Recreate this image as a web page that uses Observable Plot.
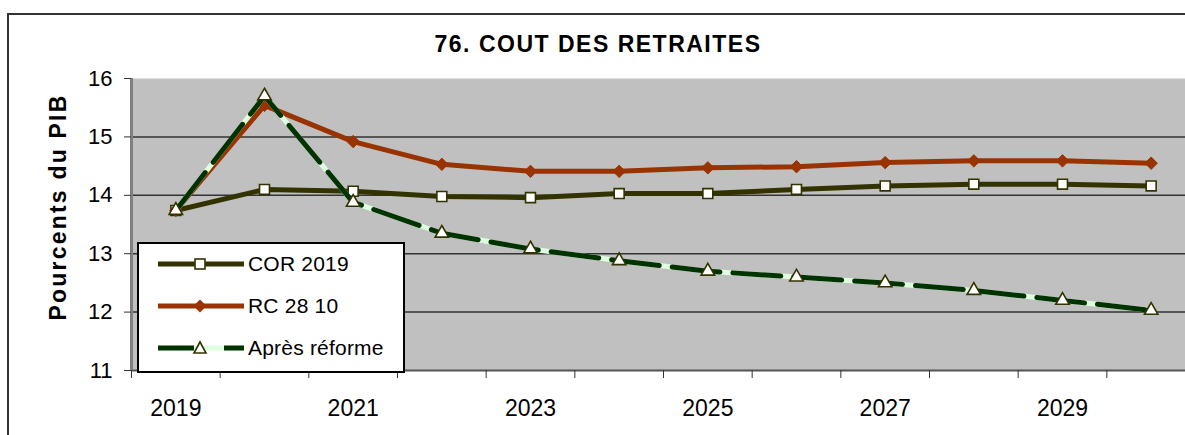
<!DOCTYPE html>
<html><head><meta charset="utf-8">
<script src="https://cdn.jsdelivr.net/npm/d3@7"></script>
<script src="https://cdn.jsdelivr.net/npm/@observablehq/plot@0.6"></script>
<style>
body{margin:0;background:#fff;font-family:"Liberation Sans",Arial,sans-serif;}
#wrap{position:relative;width:1185px;height:435px;overflow:hidden;background:#fff;}
#chart{position:absolute;left:0;top:0;}
#border{position:absolute;left:7px;top:13px;width:1200px;height:440px;border:2px solid #333;box-sizing:border-box;}
#title{position:absolute;left:598px;top:44px;transform:translate(-50%,-50%);font-weight:bold;font-size:23px;letter-spacing:1.5px;white-space:nowrap;color:#000;}
#ylabel{position:absolute;left:58px;top:207px;transform:translate(-50%,-50%) rotate(-90deg);font-weight:bold;font-size:23px;letter-spacing:2.2px;white-space:nowrap;color:#000;}
#legend{position:absolute;left:137px;top:242px;width:268px;height:131px;box-sizing:border-box;border:2px solid #000;background:#fff;}
.row{position:absolute;left:19px;height:24px;display:flex;align-items:center;}
.row span{font-size:21px;margin-left:4px;color:#000;letter-spacing:0.2px;}
</style></head><body>
<div id="wrap">
 <div id="border"></div>
 <div id="chart"></div>
 <div id="title">76. COUT DES RETRAITES</div>
 <div id="ylabel">Pourcents du PIB</div>
 <div id="legend"></div>
</div>
<script>
const years = [2019, 2020, 2021, 2022, 2023, 2024, 2025, 2026, 2027, 2028, 2029, 2030];
const cor2019 = [13.74, 14.10, 14.07, 13.98, 13.96, 14.03, 14.03, 14.10, 14.16, 14.19, 14.19, 14.16];
const rc2810  = [13.74, 15.54, 14.92, 14.53, 14.41, 14.41, 14.47, 14.49, 14.56, 14.59, 14.59, 14.55];
const apres   = [13.74, 15.70, 13.88, 13.35, 13.08, 12.88, 12.70, 12.60, 12.50, 12.37, 12.20, 12.03];
const seriesNames = ["COR 2019", "RC 28 10", "Après réforme"];
const yTicks = [11, 12, 13, 14, 15, 16];
const xLabelYears = [2019, 2021, 2023, 2025, 2027, 2029];

const toRows = (vals, name) => years.map((year, i) => ({year, value: vals[i], name}));
const dCor = toRows(cor2019, seriesNames[0]);
const dRc = toRows(rc2810, seriesNames[1]);
const dAp = toRows(apres, seriesNames[2]);
const boundaries = [years[0] - 0.5, ...years.slice(0, -1).map(y => y + 0.5)];

const cOlive = "#333300", cRed = "#993300", cGreen = "#003300", cMint = "#e0ffe0";

const chart = Plot.plot({
  width: 1185, height: 435,
  marginTop: 78, marginBottom: 65, marginLeft: 131, marginRight: 0,
  style: {fontFamily: "'Liberation Sans', Arial, sans-serif", fontSize: "22px", background: "transparent", color: "#000"},
  x: {type: "linear", domain: [years[0] - 0.5, years[years.length - 1] + 0.5], range: [131, 1195], label: null},
  y: {domain: [11, 16], label: null},
  marks: [
    Plot.frame({fill: "#c0c0c0"}),
    Plot.gridY([12, 13, 14, 15], {stroke: "#333", strokeOpacity: 1, strokeWidth: 1.5}),
    Plot.ruleY([11], {stroke: "#555", strokeWidth: 2}),
    Plot.ruleX([years[0] - 0.5], {stroke: "#808080", strokeWidth: 3}),
    Plot.axisY(yTicks, {tickSize: 7, tickPadding: 12, stroke: "#333", label: null, fontSize: 22, letterSpacing: 1, tickFormat: d => String(d)}),
    Plot.axisX(boundaries, {tickSize: 8, tickFormat: () => "", stroke: "#333", label: null}),
    Plot.axisX(xLabelYears, {tickSize: 0, tickPadding: 29, tickFormat: d => String(d), label: null, fontSize: 23, letterSpacing: 1}),
    Plot.line(dCor, {x: "year", y: "value", stroke: cOlive, strokeWidth: 5}),
    Plot.dot(dCor, {x: "year", y: "value", symbol: "square", r: 5.6, fill: "#fff", stroke: cOlive, strokeWidth: 1.6}),
    Plot.line(dRc, {x: "year", y: "value", stroke: cRed, strokeWidth: 5}),
    Plot.dot(dRc, {x: "year", y: "value", symbol: "diamond2", r: 5.6, fill: cRed, stroke: cRed, strokeWidth: 1}),
    Plot.line(dAp, {x: "year", y: "value", stroke: cMint, strokeWidth: 5}),
    Plot.line(dAp, {x: "year", y: "value", stroke: cGreen, strokeWidth: 5, strokeDasharray: "48,13"}),
    Plot.dot(dAp, {x: "year", y: "value", symbol: "triangle", r: 5, fill: "#fff", stroke: cOlive, strokeWidth: 1.6})
  ]
});
document.getElementById("chart").appendChild(chart);

// legend
const legend = document.getElementById("legend");
const sw = [
  `<line x1="0" y1="8" x2="86" y2="8" stroke="${cOlive}" stroke-width="5"/><rect x="37" y="3" width="10" height="10" fill="#fff" stroke="${cOlive}" stroke-width="1.6"/>`,
  `<line x1="0" y1="8" x2="86" y2="8" stroke="${cRed}" stroke-width="5"/><path d="M42,1.5L48.5,8L42,14.5L35.5,8Z" fill="${cRed}"/>`,
  `<line x1="0" y1="8" x2="86" y2="8" stroke="${cMint}" stroke-width="5"/><line x1="0" y1="8" x2="86" y2="8" stroke="${cGreen}" stroke-width="5" stroke-dasharray="36,30,20"/><path d="M42,2L48,13L36,13Z" fill="#fff" stroke="${cOlive}" stroke-width="1.6"/>`
];
seriesNames.forEach((name, i) => {
  const row = document.createElement("div");
  row.className = "row";
  row.style.top = (8 + i * 42) + "px";
  row.innerHTML = `<svg width="86" height="16">${sw[i]}</svg><span>${name}</span>`;
  legend.appendChild(row);
});
</script>
</body></html>
